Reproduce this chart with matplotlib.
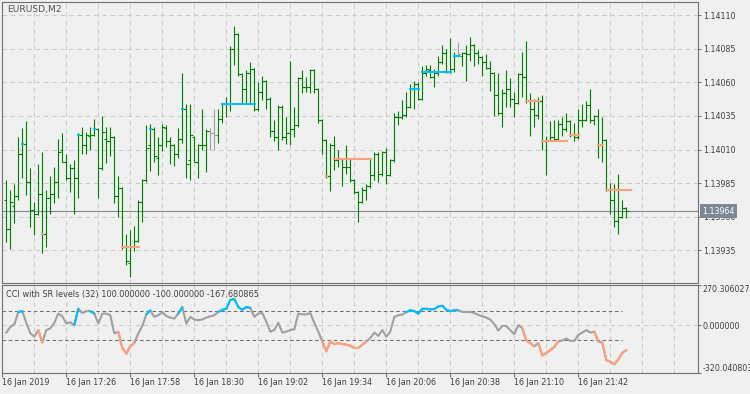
import numpy as np
import matplotlib.pyplot as plt
from matplotlib.collections import LineCollection

# EURUSD M2 bars (left to right)
opens = [1.13972, 1.13951, 1.13968, 1.13975, 1.14007, 1.14014, 1.13986, 1.13965, 1.13962, 1.13977,
         1.13947, 1.13974, 1.13977, 1.13986, 1.14010, 1.14001, 1.13989, 1.13996, 1.13989, 1.14021,
         1.14013, 1.14020, 1.14021, 1.14025, 1.13996, 1.14018, 1.14016, 1.14019, 1.13975, 1.13981,
         1.13937, 1.13925, 1.13937, 1.13942, 1.13971, 1.13987, 1.14013, 1.14025, 1.14004, 1.14013,
         1.14026, 1.14016, 1.14013, 1.14007, 1.14018, 1.14040, 1.14002, 1.14019, 1.14001, 1.14013,
         1.14013, 1.14024, 1.14022, 1.14021, 1.14033, 1.14044, 1.14044, 1.14085, 1.14096, 1.14066,
         1.14055, 1.14067, 1.14070, 1.14040, 1.14053, 1.14061, 1.14048, 1.14024, 1.14019, 1.14042,
         1.14019, 1.14022, 1.14025, 1.14028, 1.14063, 1.14057, 1.14057, 1.14069, 1.14055, 1.14032,
         1.14017, 1.13990, 1.14013, 1.14002, 1.14003, 1.13997, 1.13997, 1.13987, 1.13978, 1.13971,
         1.13980, 1.13983, 1.13991, 1.14007, 1.13992, 1.14008, 1.13991, 1.14002, 1.14034, 1.14034,
         1.14036, 1.14042, 1.14055, 1.14059, 1.14048, 1.14067, 1.14069, 1.14064, 1.14067, 1.14075,
         1.14082, 1.14068, 1.14070, 1.14080, 1.14080, 1.14082, 1.14081, 1.14088, 1.14082, 1.14079,
         1.14075, 1.14071, 1.14067, 1.14051, 1.14037, 1.14052, 1.14055, 1.14048, 1.14045, 1.14066,
         1.14064, 1.14046, 1.14040, 1.14036, 1.14046, 1.14016, 1.14017, 1.14019, 1.14018, 1.14029,
         1.14025, 1.14031, 1.14021, 1.14019, 1.14032, 1.14032, 1.14043, 1.14032, 1.14035, 1.14013,
         1.14017, 1.13980, 1.13972, 1.13957, 1.13960, 1.13966]
highs = [1.13987, 1.13980, 1.13984, 1.14019, 1.14026, 1.14031, 1.13996, 1.13971, 1.13999, 1.14008,
         1.13980, 1.13990, 1.13997, 1.14018, 1.14022, 1.14007, 1.13999, 1.14002, 1.14022, 1.14027,
         1.14023, 1.14027, 1.14033, 1.14026, 1.14035, 1.14027, 1.14027, 1.14020, 1.13990, 1.13982,
         1.13947, 1.13950, 1.13953, 1.13972, 1.13988, 1.14028, 1.14029, 1.14027, 1.14019, 1.14029,
         1.14028, 1.14019, 1.14014, 1.14026, 1.14067, 1.14044, 1.14044, 1.14020, 1.14014, 1.14040,
         1.14025, 1.14026, 1.14040, 1.14040, 1.14045, 1.14049, 1.14087, 1.14102, 1.14097, 1.14067,
         1.14069, 1.14075, 1.14071, 1.14060, 1.14065, 1.14062, 1.14049, 1.14032, 1.14043, 1.14043,
         1.14034, 1.14076, 1.14042, 1.14064, 1.14069, 1.14064, 1.14070, 1.14070, 1.14056, 1.14033,
         1.14018, 1.14015, 1.14020, 1.14010, 1.14004, 1.14013, 1.14003, 1.13988, 1.13979, 1.13982,
         1.13984, 1.14003, 1.14008, 1.14008, 1.14009, 1.14011, 1.14003, 1.14037, 1.14039, 1.14047,
         1.14053, 1.14059, 1.14061, 1.14060, 1.14072, 1.14073, 1.14073, 1.14070, 1.14080, 1.14088,
         1.14085, 1.14093, 1.14083, 1.14090, 1.14083, 1.14088, 1.14094, 1.14089, 1.14084, 1.14080,
         1.14081, 1.14076, 1.14068, 1.14067, 1.14055, 1.14069, 1.14063, 1.14053, 1.14067, 1.14083,
         1.14091, 1.14052, 1.14048, 1.14049, 1.14051, 1.14020, 1.14031, 1.14032, 1.14032, 1.14034,
         1.14037, 1.14032, 1.14030, 1.14040, 1.14044, 1.14046, 1.14055, 1.14036, 1.14040, 1.14034,
         1.14018, 1.13985, 1.13984, 1.13992, 1.13972, 1.13967]
lows = [1.13941, 1.13936, 1.13955, 1.13972, 1.13989, 1.13976, 1.13952, 1.13946, 1.13961, 1.13933,
        1.13937, 1.13962, 1.13970, 1.13974, 1.14001, 1.13987, 1.13978, 1.13962, 1.13974, 1.14007,
        1.14007, 1.14010, 1.14020, 1.13974, 1.13995, 1.14000, 1.14005, 1.13970, 1.13960, 1.13936,
        1.13924, 1.13915, 1.13934, 1.13941, 1.13956, 1.13986, 1.13994, 1.14001, 1.13991, 1.14009,
        1.14012, 1.13999, 1.13998, 1.14004, 1.14015, 1.13989, 1.13987, 1.14001, 1.13989, 1.14010,
        1.13993, 1.14010, 1.14010, 1.14015, 1.14030, 1.14034, 1.14039, 1.14073, 1.14065, 1.14045,
        1.14045, 1.14045, 1.14039, 1.14039, 1.14047, 1.14040, 1.14019, 1.14016, 1.14010, 1.14017,
        1.14014, 1.14013, 1.14019, 1.14027, 1.14052, 1.14053, 1.14052, 1.14052, 1.14030, 1.14007,
        1.13989, 1.13979, 1.13995, 1.13997, 1.13983, 1.13992, 1.13986, 1.13977, 1.13956, 1.13970,
        1.13972, 1.13981, 1.13987, 1.13986, 1.13990, 1.13984, 1.13990, 1.14001, 1.14028, 1.14033,
        1.14034, 1.14041, 1.14040, 1.14047, 1.14047, 1.14065, 1.14063, 1.14057, 1.14065, 1.14074,
        1.14067, 1.14067, 1.14068, 1.14079, 1.14072, 1.14061, 1.14076, 1.14072, 1.14074, 1.14065,
        1.14070, 1.14054, 1.14035, 1.14036, 1.14027, 1.14042, 1.14042, 1.14034, 1.14044, 1.14049,
        1.14045, 1.14020, 1.14027, 1.14033, 1.14010, 1.13991, 1.14016, 1.14017, 1.14016, 1.14020,
        1.14024, 1.14019, 1.14016, 1.14018, 1.14027, 1.14031, 1.14030, 1.14028, 1.14004, 1.14001,
        1.13979, 1.13962, 1.13952, 1.13947, 1.13959, 1.13959]
closes = [1.13951, 1.13971, 1.13975, 1.14007, 1.14014, 1.13986, 1.13965, 1.13962, 1.13977, 1.13947,
          1.13974, 1.13977, 1.13986, 1.14008, 1.14001, 1.13989, 1.13996, 1.13989, 1.14021, 1.14013,
          1.14021, 1.14021, 1.14025, 1.13996, 1.14023, 1.14016, 1.14019, 1.13975, 1.13981, 1.13937,
          1.13927, 1.13937, 1.13942, 1.13971, 1.13987, 1.14011, 1.14025, 1.14005, 1.14013, 1.14027,
          1.14016, 1.14013, 1.14007, 1.14018, 1.14040, 1.13999, 1.14021, 1.14001, 1.14013, 1.14013,
          1.14024, 1.14022, 1.14021, 1.14033, 1.14044, 1.14044, 1.14085, 1.14096, 1.14066, 1.14055,
          1.14067, 1.14070, 1.14040, 1.14053, 1.14061, 1.14048, 1.14024, 1.14019, 1.14042, 1.14019,
          1.14022, 1.14025, 1.14028, 1.14063, 1.14057, 1.14057, 1.14069, 1.14055, 1.14032, 1.14017,
          1.13990, 1.14013, 1.14002, 1.14003, 1.13997, 1.13997, 1.13987, 1.13978, 1.13971, 1.13980,
          1.13983, 1.13991, 1.14007, 1.13992, 1.14008, 1.13991, 1.14002, 1.14034, 1.14034, 1.14036,
          1.14042, 1.14055, 1.14059, 1.14048, 1.14067, 1.14070, 1.14064, 1.14067, 1.14075, 1.14082,
          1.14068, 1.14070, 1.14080, 1.14081, 1.14082, 1.14081, 1.14088, 1.14082, 1.14079, 1.14075,
          1.14071, 1.14067, 1.14051, 1.14037, 1.14052, 1.14055, 1.14048, 1.14045, 1.14066, 1.14064,
          1.14046, 1.14040, 1.14036, 1.14046, 1.14016, 1.14017, 1.14019, 1.14018, 1.14029, 1.14025,
          1.14031, 1.14021, 1.14019, 1.14032, 1.14032, 1.14043, 1.14032, 1.14035, 1.14013, 1.14017,
          1.13980, 1.13972, 1.13957, 1.13960, 1.13966, 1.13964]
gray_bars = [51, 52, 113]

# support / resistance levels: (first bar, last bar, price)
sr_up = [(4, 4, 1.14014), (18, 18, 1.14021), (22, 22, 1.14025), (36, 36, 1.14025),
         (44, 44, 1.14040), (54, 62, 1.14044), (101, 103, 1.14055), (104, 111, 1.14068),
         (112, 113, 1.14080)]
sr_dn = [(9, 9, 1.13947), (29, 33, 1.13937), (80, 80, 1.13990), (82, 91, 1.14003),
         (130, 133, 1.14046), (134, 140, 1.14016), (141, 143, 1.14021), (148, 149, 1.14013),
         (150, 156, 1.13980)]

# CCI(32) per bar
cci = [-49, -10, 6, 90, 96, 17, -54, -76, -32, -116,
       -32, -21, 17, 79, 61, 12, 21, 1, 112, 83,
       96, 96, 79, 12, 79, 79, 68, -54, -43, -153,
       -191, -142, -120, -54, -5, 74, 101, 57, 68, 90,
       63, 52, 45, 79, 123, 12, 57, 39, 35, 39,
       52, 61, 68, 90, 105, 112, 171, 178, 123, 105,
       123, 118, 57, 79, 83, 24, -43, -32, 17, -49,
       -43, -32, -27, 79, 74, 74, 83, 17, -43, -109,
       -175, -109, -127, -120, -127, -131, -138, -153, -153, -131,
       -109, -87, -49, -71, -32, -76, -43, 57, 68, 72,
       90, 101, 96, 79, 112, 112, 107, 110, 127, 132,
       105, 96, 101, 101, 90, 90, 90, 83, 70, 61,
       52, 39, 8, -36, -3, -5, -32, -60, 1, -21,
       -102, -120, -142, -120, -204, -186, -168, -146, -109, -102,
       -89, -105, -105, -65, -49, -32, -49, -43, -109, -116,
       -235, -246, -263, -230, -186, -167.680865]
cci_up = [(4, 4), (18, 18), (22, 22), (36, 36), (44, 44), (54, 61), (101, 113)]
cci_dn = [(9, 9), (29, 32), (80, 90), (130, 132), (134, 138), (148, 148), (150, 155)]
cci_levels = [100, -100]
cci_min, cci_max = -320.040803, 270.306027

price_ticks = [1.13935, 1.13960, 1.13985, 1.14010, 1.14035, 1.14060, 1.14085, 1.14110]
time_labels = ['16 Jan 2019', '16 Jan 17:26', '16 Jan 17:58', '16 Jan 18:30', '16 Jan 19:02',
               '16 Jan 19:34', '16 Jan 20:06', '16 Jan 20:38', '16 Jan 21:10', '16 Jan 21:42']

BG = '#f0f0f0'
GREEN = '#008000'
UP = '#00bfff'
DN = '#ffa07a'
FRAME = '#707070'
TXT = '#404040'
grid_kw = dict(color='#cacaca', lw=0.75, ls=(0, (4, 4)))

fig = plt.figure(figsize=(7.5, 3.94), dpi=100, facecolor=BG)
W, H = 750.0, 394.0


def box(x0, y0, x1, y1):
    return [x0 / W, 1 - y1 / H, (x1 - x0) / W, (y1 - y0) / H]


ax = fig.add_axes(box(2.3, 2.3, 697.5, 283.3))
cx = fig.add_axes(box(2.3, 285.3, 697.5, 372.7))

x = np.arange(len(closes))
xmin, xmax = -1, 172.8
grid_x = np.arange(7, 168, 8)
tick_x = np.arange(len(time_labels)) * 16 - 1

for a in (ax, cx):
    a.set_facecolor(BG)
    a.set_xlim(xmin, xmax)
    for s in a.spines.values():
        s.set_color(FRAME)
        s.set_linewidth(0.8)

# ---- price window
ax.set_ylim(1.1391015, 1.1411985)
ax.set_xticks(grid_x)
ax.tick_params(axis='x', length=0, labelbottom=False)
ax.xaxis.grid(True, **grid_kw)
ax.yaxis.tick_right()
ax.set_yticks(price_ticks, labels=['%.5f' % p for p in price_ticks])
ax.yaxis.grid(True, **grid_kw)
ax.tick_params(axis='y', direction='out', length=2.0, width=0.75, color=FRAME,
               pad=1.8, labelsize=5.7, labelcolor=TXT)
ax.set_axisbelow(True)

last = closes[-1]
ax.axhline(last, color='#7f8791', lw=0.8, zorder=1.5)

cols = ['#a0a0a0' if i in gray_bars else GREEN for i in x]
ax.vlines(x, lows, highs, colors=cols, lw=0.8, zorder=3)
ax.hlines(opens, x - 0.55, x, colors=cols, lw=0.8, zorder=3)
ax.hlines(closes, x, x + 0.55, colors=cols, lw=0.8, zorder=3)

for s, e, lvl in sr_up:
    ax.hlines(lvl, s - 0.4, e + 0.4, colors=UP, lw=1.5, zorder=4)
for s, e, lvl in sr_dn:
    ax.hlines(lvl, s - 0.4, e + 0.4, colors=DN, lw=1.5, zorder=4)

ax.text(0.0063, 0.975, 'EURUSD,M2', transform=ax.transAxes, fontsize=6.6,
        color='#555555', ha='left', va='center')
ax.annotate('%.5f' % last, xy=(1, last), xycoords=('axes fraction', 'data'),
            xytext=(3.6, 0), textcoords='offset points', ha='left', va='center',
            fontsize=5.7, color='white', zorder=10, annotation_clip=False,
            bbox=dict(boxstyle='square,pad=0.3', fc='#7b8896', ec='none'))

# ---- CCI window
cx.set_ylim(cci_min, cci_max)
cx.set_xticks(tick_x, labels=time_labels)
cx.set_xticks(grid_x, minor=True)
cx.xaxis.grid(True, which='both', **grid_kw)
cx.tick_params(axis='x', which='major', direction='out', length=2.9, width=0.75,
               color=FRAME, pad=1.2, labelsize=5.8, labelcolor=TXT)
cx.tick_params(axis='x', which='minor', length=0)
for lbl in cx.get_xticklabels():
    lbl.set_ha('left')
cx.yaxis.tick_right()
cx.set_yticks([cci_min, 0, cci_max], labels=['%.6f' % cci_min, '0.000000', '%.6f' % cci_max])
cx.tick_params(axis='y', direction='out', length=2.0, width=0.75, color=FRAME,
               pad=1.8, labelsize=5.7, labelcolor=TXT)
ylbls = cx.get_yticklabels()
ylbls[0].set_va('bottom')
ylbls[2].set_va('top')
cx.axhline(0, zorder=1, **grid_kw)
cx.hlines(cci_levels, -1, 154, colors='#707070', lw=0.75, linestyles=(0, (3.5, 2.5)), zorder=2)

cx.plot(x, cci, color='#a0a0a0', lw=1.5, zorder=3, solid_joinstyle='round')
for ranges, col in ((cci_up, UP), (cci_dn, DN)):
    segs = [[(k - 1, cci[k - 1]), (k, cci[k])] for a, b in ranges for k in range(a, b + 1)]
    cx.add_collection(LineCollection(segs, colors=col, lw=1.5, zorder=4, capstyle='round'))

cx.text(0.0049, 0.892, 'CCI with SR levels (32) 100.000000 -100.000000 -167.680865',
        transform=cx.transAxes, fontsize=5.9, color=TXT, ha='left', va='center', zorder=6)

fig.savefig('out.png', dpi=100, facecolor=BG)
